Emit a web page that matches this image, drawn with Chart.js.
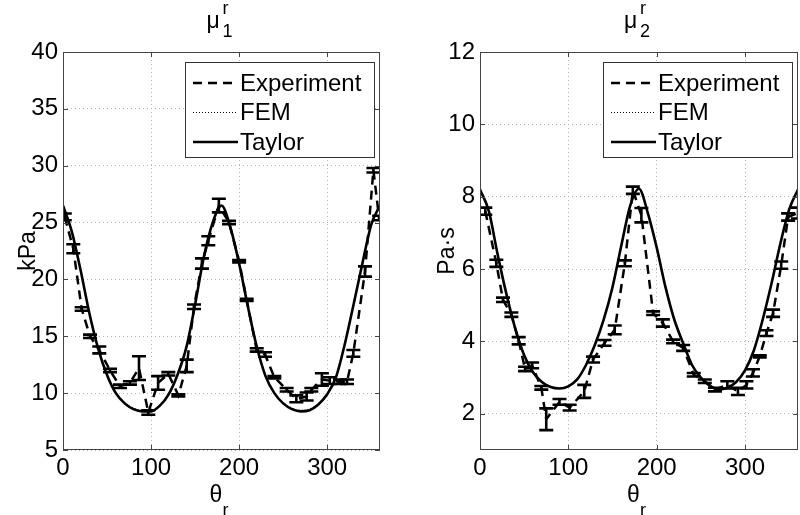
<!DOCTYPE html>
<html>
<head>
<meta charset="utf-8">
<script src="https://cdn.jsdelivr.net/npm/chart.js@4.4.1/dist/chart.umd.min.js"></script>
<style>
    body { margin: 0; background: #fff; }
    #wrap { position: relative; width: 800px; height: 515px; }
    canvas { position: absolute; top: 0; }
</style>
</head>
<body>
<div id="wrap">
    <canvas id="mu1" width="400" height="515" style="left:0px"></canvas>
    <canvas id="mu2" width="400" height="515" style="left:400px"></canvas>
</div>
<script>
// model curves are sampled every 10 degrees
const thetaModel = [0, 10, 20, 30, 40, 50, 60, 70, 80, 90, 100, 110, 120, 130, 140, 150, 160, 170, 180,
    190, 200, 210, 220, 230, 240, 250, 260, 270, 280, 290, 300, 310, 320, 330, 340, 350, 360];

const taylorMu1 = [26.5, 24.2, 20.8, 17.0, 13.9, 11.6, 10.0, 9.1, 8.6, 8.4, 8.4, 8.9, 9.9, 11.6, 14.0, 17.8, 22.0, 25.0, 26.5,
    24.6, 21.4, 17.6, 14.1, 11.5, 10.0, 9.1, 8.6, 8.4, 8.5, 9.0, 9.9, 11.4, 14.3, 17.8, 21.4, 24.8, 26.5];
const femMu1 = [26.4, 24.3, 20.9, 17.1, 14.0, 11.7, 10.1, 9.2, 8.7, 8.5, 8.5, 9.0, 10.0, 11.7, 14.1, 17.9, 22.1, 25.0, 26.4,
    24.7, 21.5, 17.7, 14.2, 11.6, 10.1, 9.2, 8.7, 8.5, 8.6, 9.1, 10.0, 11.5, 14.4, 17.9, 21.5, 24.8, 26.4];

const taylorMu2 = [8.2, 7.6, 6.4, 5.3, 4.35, 3.62, 3.15, 2.88, 2.74, 2.7, 2.76, 2.95, 3.35, 3.9, 4.6, 5.5, 6.65, 7.75, 8.22,
    7.55, 6.6, 5.5, 4.6, 3.95, 3.35, 3.0, 2.78, 2.68, 2.72, 2.88, 3.2, 3.75, 4.6, 5.6, 6.7, 7.65, 8.2];
const femMu2 = [8.18, 7.62, 6.43, 5.33, 4.38, 3.65, 3.18, 2.9, 2.76, 2.72, 2.78, 2.97, 3.37, 3.93, 4.63, 5.53, 6.68, 7.77, 8.2,
    7.57, 6.63, 5.53, 4.63, 3.98, 3.38, 3.02, 2.8, 2.7, 2.74, 2.9, 3.22, 3.78, 4.63, 5.63, 6.72, 7.67, 8.18];

// experiment: angle, mean, half error bar
const expThetaMu1 = [2, 11.7, 21.2, 30.7, 41.2, 53.4, 64.7, 76, 86.3, 96.9, 108, 119.6, 131, 140.5, 148.8, 157.8, 165, 177,
    188.5, 200, 208.6, 220, 229.4, 240, 254, 265, 276.7, 282, 294, 303, 314.5, 322.5, 329.7, 343, 352.5, 359];
const expMu1 = [25.5, 22.7, 17.4, 15.0, 13.8, 12.0, 10.6, 10.9, 12.2, 8.3, 10.9, 11.7, 9.8, 12.4, 17.6, 21.4, 23.4, 26.5,
    25.0, 21.6, 18.2, 13.8, 13.4, 11.4, 10.3, 9.5, 9.7, 10.3, 11.2, 11.1, 11.0, 11.0, 13.5, 20.7, 29.6, 25.4];
const expErrMu1 = [0.3, 0.4, 0.15, 0.15, 0.3, 0.15, 0.15, 0.15, 1.05, 0.2, 0.6, 0.15, 0.1, 0.55, 0.2, 0.45, 0.4, 0.6,
    0.15, 0.1, 0.1, 0.15, 0.2, 0.1, 0.15, 0.3, 0.35, 0.15, 0.55, 0.3, 0.2, 0.2, 0.3, 0.45, 0.2, 0.2];

const expThetaMu2 = [6, 18.5, 26, 35.5, 43.8, 51, 59, 69.4, 75, 90, 101.5, 118, 128, 141, 152.5, 164, 173, 182.7,
    196, 207, 218.6, 230, 242, 254.5, 266, 280, 292, 301.6, 309, 316.7, 324.3, 331.8, 341, 348.8, 360];
const expMu2 = [7.6, 6.16, 5.15, 4.74, 4.02, 3.24, 3.34, 2.72, 1.85, 2.33, 2.17, 2.62, 3.5, 3.96, 4.32, 6.16, 8.18, 7.49,
    4.78, 4.51, 4.0, 3.82, 3.08, 2.9, 2.67, 2.8, 2.62, 2.8, 3.13, 3.59, 4.23, 4.78, 6.11, 7.44, 7.55];
const expErrMu2 = [0.1, 0.1, 0.06, 0.06, 0.1, 0.06, 0.08, 0.05, 0.3, 0.08, 0.08, 0.18, 0.08, 0.08, 0.12, 0.08, 0.1, 0.2,
    0.05, 0.1, 0.05, 0.08, 0.05, 0.05, 0.05, 0.1, 0.1, 0.1, 0.1, 0.03, 0.08, 0.1, 0.1, 0.1, 0.15];

const xTicks = [0, 100, 200, 300];
const yTicksMu1 = [5, 10, 15, 20, 25, 30, 35, 40];
const yTicksMu2 = [2, 4, 6, 8, 10, 12];
const legendLabels = ['Experiment', 'FEM', 'Taylor'];

const FONT = "'Liberation Sans', Arial, sans-serif";

function toPoints(xs, ys) {
    return xs.map((x, i) => ({ x: x, y: ys[i] }));
}

// vertical error bars with caps on the experiment series
const errorBarPlugin = {
    id: 'errorBars',
    afterDatasetsDraw(chart) {
        const { ctx, chartArea, scales: { x, y } } = chart;
        ctx.save();
        ctx.beginPath();
        ctx.rect(chartArea.left, chartArea.top, chartArea.right - chartArea.left, chartArea.bottom - chartArea.top);
        ctx.clip();
        ctx.strokeStyle = '#000';
        ctx.lineWidth = 2.6;
        chart.data.datasets.forEach(ds => {
            if (!ds.errorBars) return;
            ds.data.forEach((p, i) => {
                const e = ds.errorBars[i];
                const px = x.getPixelForValue(p.x);
                const top = y.getPixelForValue(p.y + e);
                const bot = y.getPixelForValue(p.y - e);
                ctx.beginPath();
                ctx.moveTo(px, top); ctx.lineTo(px, bot);
                ctx.moveTo(px - 7, top); ctx.lineTo(px + 7, top);
                ctx.moveTo(px - 7, bot); ctx.lineTo(px + 7, bot);
                ctx.stroke();
            });
        });
        ctx.restore();
    }
};

// box around the axes plus short inward ticks, matlab style
const framePlugin = {
    id: 'frame',
    afterDraw(chart) {
        const { ctx, chartArea: a, scales: { x, y } } = chart;
        ctx.save();
        ctx.strokeStyle = '#444';
        ctx.lineWidth = 1;
        ctx.strokeRect(Math.round(a.left) + 0.5, Math.round(a.top) + 0.5,
            Math.round(a.right - a.left) - 1, Math.round(a.bottom - a.top) - 1);
        ctx.beginPath();
        x.ticks.forEach(t => {
            const px = Math.round(x.getPixelForValue(t.value)) + 0.5;
            ctx.moveTo(px, a.bottom); ctx.lineTo(px, a.bottom - 5);
            ctx.moveTo(px, a.top); ctx.lineTo(px, a.top + 5);
        });
        y.ticks.forEach(t => {
            const py = Math.round(y.getPixelForValue(t.value)) + 0.5;
            ctx.moveTo(a.left, py); ctx.lineTo(a.left + 5, py);
            ctx.moveTo(a.right, py); ctx.lineTo(a.right - 5, py);
        });
        ctx.stroke();
        ctx.restore();
    }
};

const legendBoxPlugin = {
    id: 'legendBox',
    afterDraw(chart) {
        const { ctx, chartArea: a } = chart;
        const w = 189, h = 95;
        const left = a.right - 6 - w;
        const top = a.top + 10;
        ctx.save();
        ctx.fillStyle = '#fff';
        ctx.fillRect(left, top, w, h);
        ctx.strokeStyle = '#333';
        ctx.lineWidth = 1;
        ctx.strokeRect(Math.round(left) + 0.5, Math.round(top) + 0.5, w, h);
        chart.data.datasets.forEach((ds, i) => {
            const ly = top + 21 + i * 29.5;
            ctx.beginPath();
            ctx.strokeStyle = '#000';
            ctx.lineWidth = ds.borderWidth;
            ctx.setLineDash(ds.borderDash || []);
            ctx.moveTo(left + 8, ly);
            ctx.lineTo(left + 53, ly);
            ctx.stroke();
            ctx.setLineDash([]);
            ctx.fillStyle = '#000';
            ctx.font = '24px ' + FONT;
            ctx.textAlign = 'left';
            ctx.textBaseline = 'middle';
            ctx.fillText(legendLabels[i], left + 55, ly + 1);
        });
        ctx.restore();
    }
};

// title, axis titles with sub- and superscripts
const labelPlugin = {
    id: 'labels',
    afterDraw(chart) {
        const { ctx, chartArea: a } = chart;
        const o = chart.options.plugins.labels;
        const cx = (a.left + a.right) / 2;
        ctx.save();
        ctx.fillStyle = '#000';
        ctx.textBaseline = 'alphabetic';
        ctx.textAlign = 'left';

        ctx.font = '23px ' + FONT;
        ctx.fillText('μ', cx - 15, 28);
        ctx.font = '18px ' + FONT;
        ctx.fillText('r', cx + 1, 14);
        ctx.fillText(o.sub, cx + 1, 37);

        ctx.font = '23px ' + FONT;
        ctx.fillText('θ', cx - 12, 502);
        ctx.font = '18px ' + FONT;
        ctx.fillText('r', cx + 1, 516);

        ctx.translate(o.yLabelX, (a.top + a.bottom) / 2);
        ctx.rotate(-Math.PI / 2);
        ctx.font = '23px ' + FONT;
        ctx.textAlign = 'center';
        ctx.textBaseline = 'middle';
        ctx.fillText(o.yLabel, 0, 0);
        ctx.restore();
    }
};

function buildChart(canvasId, cfg) {
    const ctx = document.getElementById(canvasId).getContext('2d');
    const tickFont = { family: FONT, size: 24 };
    return new Chart(ctx, {
        type: 'line',
        data: {
            datasets: [
                {
                    label: legendLabels[0],
                    data: toPoints(cfg.expTheta, cfg.exp),
                    errorBars: cfg.expErr,
                    borderColor: '#000',
                    borderWidth: 2.5,
                    borderDash: [9, 6],
                    pointRadius: 0,
                    tension: 0
                },
                {
                    label: legendLabels[1],
                    data: toPoints(thetaModel, cfg.fem),
                    borderColor: '#000',
                    borderWidth: 1,
                    borderDash: [1, 2],
                    pointRadius: 0,
                    cubicInterpolationMode: 'monotone'
                },
                {
                    label: legendLabels[2],
                    data: toPoints(thetaModel, cfg.taylor),
                    borderColor: '#000',
                    borderWidth: 2.6,
                    pointRadius: 0,
                    cubicInterpolationMode: 'monotone'
                }
            ]
        },
        options: {
            responsive: false,
            animation: false,
            devicePixelRatio: 1,
            layout: { padding: { top: 52, right: cfg.padRight, left: 0, bottom: 0 } },
            plugins: {
                legend: { display: false },
                tooltip: { enabled: false },
                labels: { sub: cfg.sub, yLabel: cfg.yLabel, yLabelX: cfg.yLabelX }
            },
            scales: {
                x: {
                    type: 'linear',
                    min: 0,
                    max: 360,
                    afterBuildTicks: s => { s.ticks = xTicks.map(v => ({ value: v })); },
                    afterFit: s => { s.height = 65; },
                    grid: { color: '#b5b5b5', drawTicks: false },
                    border: { display: false, dash: [1, 3] },
                    ticks: { color: '#000', font: tickFont, padding: 4, maxRotation: 0, autoSkip: false }
                },
                y: {
                    type: 'linear',
                    min: cfg.yMin,
                    max: cfg.yMax,
                    afterBuildTicks: s => { s.ticks = cfg.yTicks.map(v => ({ value: v })); },
                    afterFit: s => { s.width = cfg.axisLeft; },
                    grid: { color: '#b5b5b5', drawTicks: false },
                    border: { display: false, dash: [1, 3] },
                    ticks: { color: '#000', font: tickFont, padding: 5, autoSkip: false }
                }
            }
        },
        plugins: [errorBarPlugin, framePlugin, legendBoxPlugin, labelPlugin]
    });
}

buildChart('mu1', {
    expTheta: expThetaMu1, exp: expMu1, expErr: expErrMu1,
    fem: femMu1, taylor: taylorMu1,
    yMin: 5, yMax: 40, yTicks: yTicksMu1,
    axisLeft: 63, padRight: 20,
    sub: '1', yLabel: 'kPa', yLabelX: 29
});

buildChart('mu2', {
    expTheta: expThetaMu2, exp: expMu2, expErr: expErrMu2,
    fem: femMu2, taylor: taylorMu2,
    yMin: 1, yMax: 12, yTicks: yTicksMu2,
    axisLeft: 80, padRight: 2,
    sub: '2', yLabel: 'Pa·s', yLabelX: 48
});
</script>
</body>
</html>
